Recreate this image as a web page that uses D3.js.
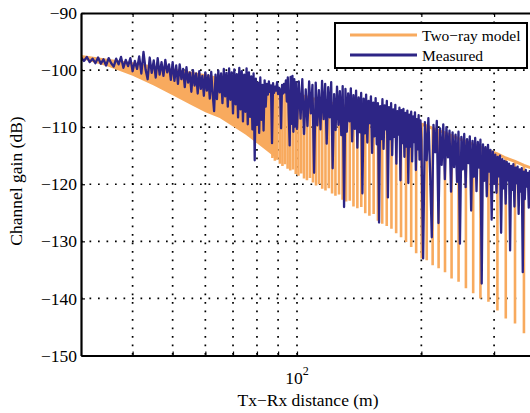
<!DOCTYPE html>
<html><head><meta charset="utf-8">
<script src="https://cdn.jsdelivr.net/npm/d3@7"></script>
<style>
body{margin:0;background:#fff}
text{font-family:"Liberation Serif","Times New Roman",serif;fill:#000}
</style>
</head><body><svg id="c" width="530" height="413"></svg>
<script>
// ---------------- data ----------------
const yTicks = [-150, -140, -130, -120, -110, -100, -90];
const yGrid = [-140, -130, -120, -110, -100];
const xGrid = [40, 50, 60, 70, 80, 90, 100, 200, 300];
const xLabelTick = 100;
const seriesNames = ["Two\u2212ray model", "Measured"];

// two-ray model, dense region: [distance, upper, lower]
const twoRayBand = [
  [30,-97.6,-98.0],[35,-98.3,-99.4],[40,-98.9,-101.0],[45,-99.5,-102.7],
  [50,-100.0,-104.4],[55,-100.5,-106.0],[60,-101.0,-107.4],[65,-101.5,-108.4],
  [70,-101.9,-109.9],[75,-102.3,-111.3],[80,-102.7,-112.8],[85,-103.1,-114.3],
  [88,-103.4,-115.2]
];
// two-ray model nulls: [distance, envelope, null depth]
const twoRayNulls = [
  [87.2,-103.3,-115.4],[88.4,-103.4,-115.9],[89.6,-103.5,-115.7],[90.9,-103.6,-116.4],
  [92.2,-103.7,-116.8],[93.5,-103.8,-116.5],[94.9,-103.9,-117.3],[96.3,-104.0,-117.6],
  [97.8,-104.1,-117.4],[99.3,-104.2,-118.2],[100.8,-104.4,-118.5],[102.4,-104.5,-118.1],
  [104.0,-104.6,-119.0],[105.7,-104.7,-119.3],[107.5,-104.8,-118.9],[109.3,-105.0,-119.7],
  [111.2,-105.1,-120.2],[113.1,-105.2,-120.0],[115.1,-105.4,-120.8],[117.2,-105.5,-121.1],
  [119.4,-105.6,-120.7],[121.6,-105.8,-121.6],[123.9,-105.9,-122.0],[126.4,-106.1,-121.8],
  [128.9,-106.2,-122.7],[131.5,-106.4,-123.0],[134.2,-106.5,-122.9],[137.0,-106.7,-123.9],
  [140.0,-106.8,-124.2],[143.1,-107.0,-124.0],[146.3,-107.2,-125.1],[149.7,-107.4,-125.5],
  [153.3,-107.5,-125.2],[157.0,-107.7,-126.4],[160.8,-107.9,-126.9],[164.9,-108.1,-127.3],
  [169.3,-108.3,-127.8],[173.8,-108.5,-128.6],[178.6,-108.7,-129.3],[183.6,-108.9,-130.1],
  [189.0,-109.1,-131.0],[194.3,-109.3,-132.1],[200.4,-109.5,-133.0],[206.1,-109.8,-133.3],
  [213.0,-110.2,-134.2],[220.2,-110.6,-134.7],[228.2,-111.0,-135.4],[236.7,-111.5,-136.5],
  [246.1,-112.0,-137.1],[256.4,-112.5,-138.2],[267.0,-113.0,-139.1],[278.0,-113.5,-140.0],
  [290.7,-114.1,-140.6],[305.6,-114.7,-142.1],[320.2,-115.4,-143.5],[337.1,-116.0,-144.4],
  [354.3,-116.7,-146.1],[374.8,-117.3,-147.5]
];
// measured channel gain: [distance, dB]
const measured = [
  [30,-97.8],[30.5,-98.4],[31,-97.7],[31.5,-98.6],[32,-98.0],[32.5,-98.8],[33,-97.8],[33.5,-98.9],
  [34,-98.1],[34.5,-99.2],[35,-97.9],[35.5,-98.8],[36,-99.4],[36.5,-98.0],[37,-99.0],[37.5,-97.7],
  [38,-99.6],[38.5,-98.2],[39,-99.3],[39.5,-97.9],[40,-100.2],[40.5,-98.4],[41,-99.8],[41.5,-97.6],
  [42,-100.6],[42.5,-96.8],[43,-99.9],[43.5,-101.6],[44,-97.8],[44.5,-100.5],[45,-98.3],[45.5,-101.3],
  [46,-97.9],[46.5,-100.8],[47,-98.6],[47.5,-101.0],[48,-98.2],[48.5,-100.4],[49,-99.0],[49.5,-101.7],
  [50,-98.6],[50.5,-101.9],[51,-99.2],[51.5,-102.4],[52,-99.0],[52.5,-101.6],[53,-99.8],[53.5,-103.0],
  [54,-99.5],[54.5,-102.2],[55,-100.4],[55.5,-103.8],[56,-100.0],[56.5,-102.7],[57,-100.6],[57.5,-104.1],
  [58,-100.2],[58.5,-103.3],[59,-101.0],[59.5,-104.5],[60,-100.4],[60.5,-103.6],[61,-100.9],[61.5,-105.0],
  [62,-100.3],[62.5,-104.2],[63,-107.2],[63.5,-100.8],[64,-105.1],[64.5,-100.1],[65,-103.9],[65.5,-100.6],
  [66,-105.8],[66.5,-99.8],[67,-104.6],[67.5,-100.5],[68,-106.4],[68.5,-99.7],[69,-105.2],[69.5,-100.4],
  [70,-107.6],[70.5,-99.9],[71,-106.0],[71.5,-100.7],[72,-108.3],[72.5,-99.6],[73,-106.9],[73.5,-100.2],
  [74,-109.0],[74.5,-100.8],[75,-107.3],[75.5,-99.7],[76,-109.5],[76.5,-100.4],[77,-108.2],[77.5,-101.1],
  [78,-110.4],[78.5,-100.6],[79,-115.8],[79.5,-101.5],[80,-109.6],[80.5,-102.2],[81,-111.0],[81.5,-101.3],
  [82,-108.7],[82.5,-102.6],[83,-110.6],[83.5,-101.8],[84,-106.4],[84.5,-102.4],[85,-104.3],[85.5,-102.0],
  [86,-103.8],[86.5,-102.7],[87,-112.8],[87.5,-102.3],[88,-104.0],[88.5,-102.9],[89,-103.6],[89.5,-102.1],
  [90,-104.2],[90.5,-103.1],[91,-103.5],[91.5,-110.2],[92,-102.6],[92.5,-104.1],[93,-102.4],[93.5,-103.9],
  [94,-101.8],[94.5,-105.5],[95,-101.3],[95.5,-107.8],[96,-113.2],[96.5,-101.2],[97,-109.4],[97.5,-101.0],
  [98,-110.8],[98.5,-101.6],[99,-109.9],[99.5,-102.1],[100,-110.3],
  [101,-102.0],[102,-108.5],[103,-101.6],[104,-111.2],[105,-103.4],[106,-109.8],[107,-102.0],[108,-107.6],
  [109,-102.6],[110,-118.0],[111,-102.2],[112,-109.7],[113,-103.5],[114,-110.4],[115,-101.9],[116,-108.6],
  [117,-102.4],[118,-112.9],[119,-103.0],[120,-108.3],[121,-102.1],[122,-117.2],[123,-104.2],[124,-110.5],
  [125,-102.9],[126,-109.6],[127,-103.7],[128,-111.4],[129,-102.8],[130,-124.0],[131,-103.3],[132,-110.8],
  [133,-104.1],[134,-109.0],[135,-103.2],[136,-112.5],[137,-104.4],[138,-110.3],[139,-103.6],[140,-113.6],
  [141,-104.8],[142,-110.9],[143,-104.0],[144,-121.6],[145,-105.0],[146,-111.1],[147,-104.3],[148,-112.7],
  [149,-105.4],[150,-109.3],[151,-104.6],[152,-114.5],[153,-105.7],[154,-111.6],[155,-104.9],[156,-113.0],
  [157,-105.8],[158,-126.7],[159,-106.3],[160,-112.1],[161,-105.1],[162,-113.8],[163,-106.2],[164,-110.4],
  [165,-105.4],[166,-122.3],[167,-106.5],[168,-112.1],[169,-105.8],[170,-114.9],[171,-106.9],[172,-111.7],
  [173,-106.1],[174,-116.4],[175,-107.2],[176,-111.3],[177,-106.6],[178,-119.3],[179,-107.0],[180,-112.8],
  [181,-106.8],[182,-115.2],[183,-107.5],[184,-113.4],[185,-107.1],[186,-119.8],[187,-107.8],[188,-113.4],
  [189,-107.3],[190,-116.0],[191,-108.1],[192,-112.6],[193,-107.4],[194,-117.5],[195,-108.6],[196,-113.9],
  [197,-107.9],[198,-115.7],[199,-108.8],[200,-112.2],
  [202,-133.0],[204,-109.1],[206,-115.8],[208,-108.4],[210,-117.9],[212,-129.3],[214,-109.6],[216,-114.4],
  [218,-108.9],[220,-126.8],[222,-110.2],[224,-116.6],[226,-109.5],[228,-119.1],[230,-110.0],[232,-115.3],
  [234,-110.6],[236,-121.3],[238,-110.9],[240,-117.0],[242,-111.3],[244,-119.6],[246,-110.8],[248,-130.4],
  [250,-111.7],[252,-117.4],[254,-111.2],[256,-120.5],[258,-112.1],[260,-116.3],[262,-111.6],[264,-124.6],
  [266,-112.4],[268,-118.7],[270,-111.9],[272,-121.2],[274,-112.6],[276,-117.1],[278,-112.2],[280,-137.4],
  [282,-113.0],[284,-119.4],[286,-113.5],[288,-122.1],[290,-113.1],[292,-117.8],[294,-114.0],[296,-126.2],
  [298,-114.3],[300,-119.9],[302,-114.8],[304,-121.5],[306,-115.2],[308,-118.6],[310,-115.0],[312,-128.5],
  [314,-115.6],[316,-120.7],[318,-115.9],[320,-123.4],[322,-116.1],[324,-119.3],[326,-116.4],[328,-131.6],
  [330,-116.8],[332,-121.0],[334,-116.5],[336,-123.9],[338,-117.1],[340,-119.8],[342,-116.9],[344,-125.2],
  [346,-117.4],[348,-121.3],[350,-117.2],[352,-135.4],[354,-117.8],[356,-122.6],[358,-117.5],[360,-120.4],
  [362,-118.0],[364,-124.1],[366,-117.7],[368,-121.5]
];

// ---------------- drawing ----------------
const ORANGE = "#f8aa5e", BLUE = "#2d2585";
const svg = d3.select("#c");
const L = 81, T = 13, B = 355.5, R = 545.7;
const x = d3.scaleLog().domain([30, 400]).range([L, R]);
const y = d3.scaleLinear().domain([-150, -90]).range([B, T]);

svg.append("defs").append("clipPath").attr("id", "clip")
  .append("rect").attr("x", L).attr("y", T).attr("width", R - L).attr("height", B - T);

// grid
const grid = svg.append("g").attr("stroke", "#000").attr("stroke-width", 1.7)
  .attr("stroke-dasharray", "1.7,6.8").attr("fill", "none");
grid.selectAll(".gy").data(yGrid).join("line")
  .attr("x1", L).attr("x2", R).attr("y1", d => y(d)).attr("y2", d => y(d));
grid.selectAll(".gx").data(xGrid).join("line")
  .attr("x1", d => x(d)).attr("x2", d => x(d)).attr("y1", T).attr("y2", B);

// data
const plot = svg.append("g").attr("clip-path", "url(#clip)");
plot.append("path").datum(twoRayBand)
  .attr("fill", ORANGE)
  .attr("d", d3.area().x(d => x(d[0])).y0(d => y(d[2])).y1(d => y(d[1])));
plot.append("path").datum(twoRayBand.concat(twoRayNulls))
  .attr("fill", "none").attr("stroke", ORANGE).attr("stroke-width", 3)
  .attr("d", d3.line().x(d => x(d[0])).y(d => y(d[1])));
plot.selectAll(".spk").data(twoRayNulls).join("line")
  .attr("stroke", ORANGE).attr("stroke-width", 2.6)
  .attr("x1", d => x(d[0])).attr("x2", d => x(d[0]))
  .attr("y1", d => y(d[1])).attr("y2", d => y(d[2]));
plot.append("path").datum(measured)
  .attr("fill", "none").attr("stroke", BLUE).attr("stroke-width", 2.3)
  .attr("stroke-linejoin", "round")
  .attr("d", d3.line().x(d => x(d[0])).y(d => y(d[1])));

// axes
const fmt = d => "\u2212" + Math.abs(d);
const ax = svg.append("g").attr("transform", `translate(${L},0)`)
  .call(d3.axisLeft(y).tickValues(yTicks).tickSize(-4).tickSizeOuter(0).tickPadding(4).tickFormat(fmt));
ax.selectAll("text").attr("font-size", "17.5px").attr("font-family", '"Liberation Serif",serif');
svg.append("g").attr("transform", `translate(0,${B})`)
  .call(d3.axisBottom(x).tickValues(xGrid).tickSize(-4).tickSizeOuter(0).tickFormat(""));
svg.append("g").attr("transform", `translate(0,${T})`)
  .call(d3.axisTop(x).tickValues(xGrid).tickSize(-4).tickSizeOuter(0).tickFormat(""));
svg.selectAll(".domain").attr("stroke", "#000").attr("stroke-width", 2.2);
svg.selectAll(".tick line").attr("stroke", "#000").attr("stroke-width", 1.2);

// x tick label 10^2
const lab = svg.append("text").attr("x", x(xLabelTick)).attr("y", 384)
  .attr("text-anchor", "middle").attr("font-size", "17.5px");
lab.append("tspan").text("10");
lab.append("tspan").attr("dy", -9).attr("font-size", "12px").text("2");

// axis titles
svg.append("text").attr("x", 308).attr("y", 406).attr("text-anchor", "middle")
  .attr("font-size", "17.5px").text("Tx\u2212Rx distance (m)");
svg.append("text").attr("transform", "translate(22,181) rotate(-90)")
  .attr("text-anchor", "middle").attr("font-size", "17.5px").text("Channel gain (dB)");

// legend
const lg = svg.append("g");
lg.append("rect").attr("x", 335).attr("y", 23).attr("width", 192).attr("height", 45)
  .attr("fill", "#fff").attr("stroke", "#000").attr("stroke-width", 2);
const colors = [ORANGE, BLUE];
seriesNames.forEach((n, i) => {
  const yy = 35 + i * 20;
  lg.append("line").attr("x1", 350).attr("x2", 417).attr("y1", yy).attr("y2", yy)
    .attr("stroke", colors[i]).attr("stroke-width", 3);
  lg.append("text").attr("x", 422).attr("y", yy + 5.5).attr("font-size", "15.5px").text(n);
});
</script>
</body></html>
